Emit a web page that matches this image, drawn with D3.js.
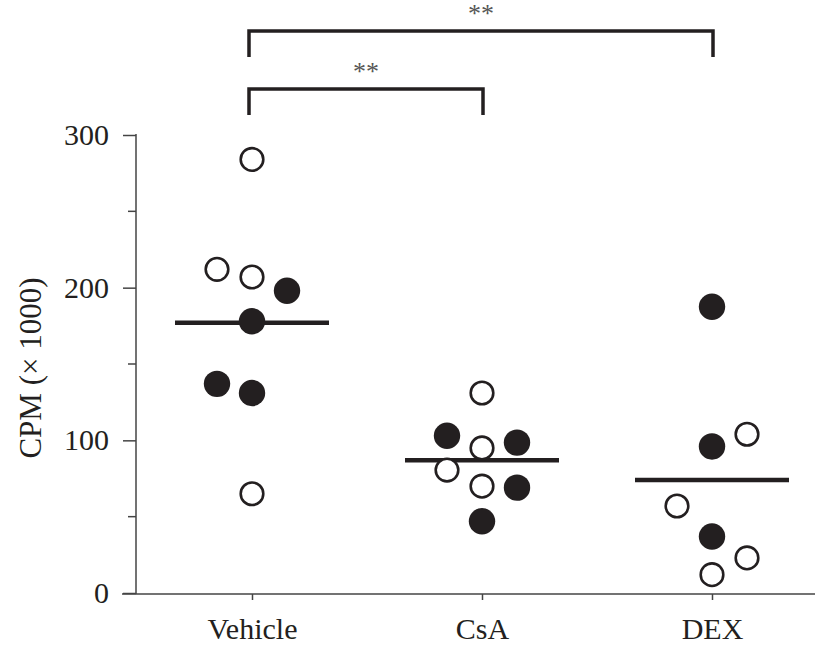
<!DOCTYPE html>
<html>
<head>
<meta charset="utf-8">
<script src="https://cdn.jsdelivr.net/npm/d3@7"></script>
<style>
  body { margin: 0; background: #fff; }
  svg { display: block; }
  text { font-family: "Liberation Serif", "DejaVu Serif", serif; fill: #231f20; }
</style>
</head>
<body>
<div class="chart"></div>
<script>
// groups on the x axis
var categories = ["Vehicle", "CsA", "DEX"];

// CPM (x 1000) per animal
var vehicleValues = [284, 212, 207, 198, 178, 137, 131, 65];
var vehicleFilled = [0, 0, 0, 1, 1, 1, 1, 0];
var vehicleCol    = [0, -1, 0, 1, 0, -1, 0, 0];

var csaValues = [131, 103, 95, 98.5, 80.5, 70, 69, 47];
var csaFilled = [0, 1, 0, 1, 0, 0, 1, 1];
var csaCol    = [0, -1, 0, 1, -1, 0, 1, 0];

var dexValues = [187.5, 96, 104, 57, 37, 23, 12];
var dexFilled = [1, 1, 0, 0, 1, 0, 0];
var dexCol    = [0, 0, 1, -1, 0, 1, 0];

// group means (horizontal bars)
var meanValues = [177, 87, 74];

var yTicks = [0, 100, 200, 300];
var yMinorTicks = [50, 150, 250];

// significance brackets
var bracketFrom = ["Vehicle", "Vehicle"];
var bracketTo = ["DEX", "CsA"];
var bracketLabel = ["**", "**"];

var width = 815, height = 646;

var groups = [
    { name: "Vehicle", v: vehicleValues, f: vehicleFilled, c: vehicleCol },
    { name: "CsA", v: csaValues, f: csaFilled, c: csaCol },
    { name: "DEX", v: dexValues, f: dexFilled, c: dexCol }
];
var points = [];
groups.forEach(g => {
    g.v.forEach((v, i) => points.push({ cat: g.name, value: v, filled: g.f[i], col: g.c[i] }));
});

var x = d3.scalePoint().domain(categories).range([252, 712]);
var jitter = d3.scaleLinear().domain([-1, 1]).range([-35, 35]);
var y = d3.scaleLinear().domain([0, 300]).range([593, 135]);

var svg = d3.select(".chart").append("svg")
    .attr("width", width)
    .attr("height", height);

var axisX0 = 136;

// y axis
var yAxis = svg.append("g")
    .attr("transform", `translate(${axisX0},0)`)
    .call(d3.axisLeft(y).tickValues(yTicks).tickSize(13).tickSizeOuter(0).tickPadding(14));
yAxis.select(".domain").remove();
yAxis.selectAll(".tick line").attr("stroke", "#444").attr("stroke-width", 1.5);
yAxis.selectAll(".tick text")
    .style("font-size", "30px")
    .style("font-family", "Liberation Serif, serif")
    .attr("fill", "#231f20");
yAxis.append("line")
    .attr("x1", 0).attr("x2", 0)
    .attr("y1", y(300) - 1).attr("y2", y(0) + 1)
    .attr("stroke", "#444").attr("stroke-width", 1.5);
yAxis.selectAll(".minor").data(yMinorTicks).enter().append("line")
    .attr("class", "minor")
    .attr("x1", -8).attr("x2", 0)
    .attr("y1", d => y(d)).attr("y2", d => y(d))
    .attr("stroke", "#444").attr("stroke-width", 1.5);

// x axis
var xAxis = svg.append("g")
    .attr("transform", `translate(0,${y(0) + 1})`)
    .call(d3.axisBottom(x).tickSize(6).tickSizeOuter(0).tickPadding(18));
xAxis.select(".domain").remove();
xAxis.selectAll(".tick line").attr("stroke", "#444").attr("stroke-width", 1.5);
xAxis.selectAll(".tick text")
    .style("font-size", "30px")
    .style("font-family", "Liberation Serif, serif")
    .attr("fill", "#231f20");
xAxis.append("line")
    .attr("x1", 122).attr("x2", width)
    .attr("y1", 0).attr("y2", 0)
    .attr("stroke", "#444").attr("stroke-width", 1.5);

// y label
svg.append("text")
    .attr("transform", `translate(41,${(y(0) + y(300)) / 2 + 4}) rotate(-90)`)
    .attr("text-anchor", "middle")
    .style("font-size", "31px")
    .text("CPM (\u00d7 1000)");

// mean bars
svg.append("g").selectAll("line")
    .data(categories).enter()
    .append("line")
    .attr("x1", d => x(d) - 77)
    .attr("x2", d => x(d) + 77)
    .attr("y1", (d, i) => y(meanValues[i]))
    .attr("y2", (d, i) => y(meanValues[i]))
    .attr("stroke", "#231f20")
    .attr("stroke-width", 4.5);

// dots
svg.append("g").selectAll("circle")
    .data(points).enter()
    .append("circle")
    .attr("cx", d => x(d.cat) + jitter(d.col))
    .attr("cy", d => y(d.value))
    .attr("r", d => d.filled ? 13.2 : 11.3)
    .attr("fill", d => d.filled ? "#231f20" : "#fff")
    .attr("stroke", "#231f20")
    .attr("stroke-width", d => d.filled ? 0 : 2.6);

// brackets
var bracketTop = [31, 89];
var bracketDrop = 26;
var br = svg.append("g");
bracketFrom.forEach((from, i) => {
    var x1 = x(from) - 3, x2 = x(bracketTo[i]) + 1, yy = bracketTop[i];
    br.append("path")
        .attr("d", `M${x1},${yy + bracketDrop} V${yy} H${x2} V${yy + bracketDrop}`)
        .attr("fill", "none")
        .attr("stroke", "#231f20")
        .attr("stroke-width", 3.5);
    br.append("text")
        .attr("x", (x1 + x2) / 2)
        .attr("y", yy - 9)
        .attr("text-anchor", "middle")
        .style("font-size", "26px")
        .style("fill", "#555")
        .text(bracketLabel[i]);
});
</script>
</body>
</html>
